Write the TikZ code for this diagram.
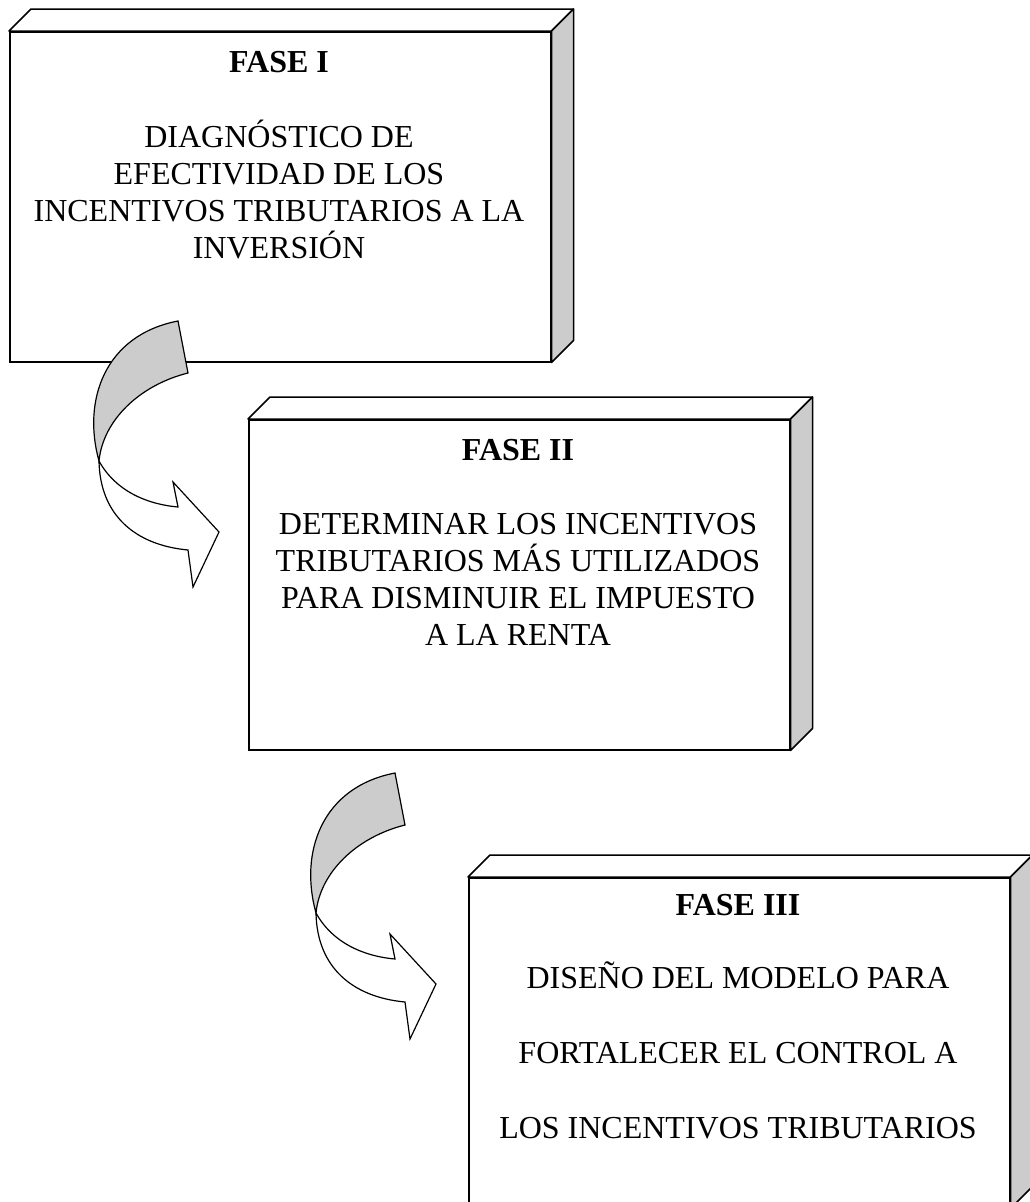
\documentclass[tikz,border=0pt]{standalone}
\usepackage{fontspec}
\setmainfont{Liberation Serif}
\definecolor{shade}{HTML}{CCCCCC}
\begin{document}
\begin{tikzpicture}[x=1pt,y=-1pt,
  frontface/.style={draw, line width=1.5pt, fill=white, minimum width=541pt, minimum height=330pt, anchor=north west, inner sep=0pt},
  face/.style={draw, line width=1.5pt, line join=round},
  titletext/.style={font=\fontsize{32}{37}\selectfont\bfseries, anchor=base, inner sep=0pt},
  bodytext/.style={font=\fontsize{32}{37}\selectfont, anchor=base, align=center, inner sep=0pt},
  widetext/.style={font=\fontsize{32}{75}\selectfont, anchor=base, align=center, inner sep=0pt},
  band/.style={draw, line width=1.2pt, line join=miter}]
\useasboundingbox (0,0) rectangle (1029,1202);

% ---------- Box 1 ----------
\node[frontface] (b1) at (9,31) {};
\draw[face, fill=white] (b1.north west) -- ++(22,-22) -- ([shift={(22,-22)}]b1.north east) -- (b1.north east) -- cycle;
\draw[face, fill=shade] (b1.north east) -- ++(22,-22) -- ([shift={(22,-22)}]b1.south east) -- (b1.south east) -- cycle;
\node[titletext] (t1) at ([shift={(270,41.5)}]b1.north west) {FASE I};
\node[bodytext] (d1) at ([shift={(270,227)}]b1.north west) {DIAGNÓSTICO DE\\EFECTIVIDAD DE LOS\\INCENTIVOS TRIBUTARIOS A LA\\INVERSIÓN};

% ---------- Box 2 ----------
\node[frontface] (b2) at (248,419) {};
\draw[face, fill=white] (b2.north west) -- ++(22,-22) -- ([shift={(22,-22)}]b2.north east) -- (b2.north east) -- cycle;
\draw[face, fill=shade] (b2.north east) -- ++(22,-22) -- ([shift={(22,-22)}]b2.south east) -- (b2.south east) -- cycle;
\node[titletext] (t2) at ([shift={(270,41.5)}]b2.north west) {FASE II};
\node[bodytext] (d2) at ([shift={(270,226)}]b2.north west) {DETERMINAR LOS INCENTIVOS\\TRIBUTARIOS MÁS UTILIZADOS\\PARA DISMINUIR EL IMPUESTO\\A LA RENTA};

% ---------- Box 3 ----------
\node[frontface] (b3) at (468,877) {};
\draw[face, fill=white] (b3.north west) -- ++(22,-22) -- ([shift={(22,-22)}]b3.north east) -- (b3.north east) -- cycle;
\draw[face, fill=shade] (b3.north east) -- ++(22,-22) -- ([shift={(22,-22)}]b3.south east) -- (b3.south east) -- cycle;
\node[titletext] (t3) at ([shift={(270,38.6)}]b3.north west) {FASE III};
\node[widetext] (d3) at ([shift={(270,261.6)}]b3.north west) {DISEÑO DEL MODELO PARA\\FORTALECER EL CONTROL A\\LOS INCENTIVOS TRIBUTARIOS};

% ---------- Curved arrows ----------
\foreach \dx/\dy in {0/0, 217/452} {
  \begin{scope}[shift={(\dx,\dy)}]
    % front (white) part with arrow head
    \draw[band, fill=white] (99,461) .. controls (115,490) and (145,504) .. (178,507)
      -- (173,482) -- (219,532) -- (193,587) -- (188,550)
      .. controls (135,545) and (100,515) .. (99,461) -- cycle;
    % back (shaded) part
    \draw[band, fill=shade] (178,321) -- (188,373)
      .. controls (140,385) and (103,420) .. (99,461)
      .. controls (82,400) and (105,335) .. (178,321) -- cycle;
  \end{scope}
}
\end{tikzpicture}
\end{document}
